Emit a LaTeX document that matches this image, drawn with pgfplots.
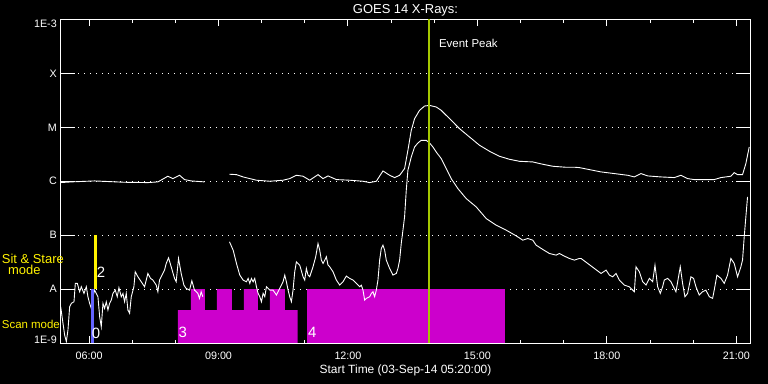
\documentclass[border=0pt]{standalone}
\usepackage{fontspec}
\setmainfont{Liberation Sans}
\usepackage{pgfplots}
\pgfplotsset{compat=1.18}
\definecolor{mag}{RGB}{204,0,204}
\definecolor{peak}{RGB}{165,200,0}
\definecolor{sblue}{RGB}{100,100,255}
\begin{document}
\begin{tikzpicture}
\fill[black] (-60.3bp,-41bp) rectangle (707.7bp,343bp);
\begin{axis}[
  at={(0,0)}, anchor=south west,
  scale only axis, width=690.4bp, height=323.5bp,
  xmin=5.3333, xmax=21.3333, ymin=-9, ymax=-3,
  axis line style={white, line width=1bp},
  xtick={6,9,12,15,18,21},
  xticklabels={06:00,09:00,12:00,15:00,18:00,21:00},
  minor x tick num=2,
  ytick={-9,-8,-7,-6,-5,-4,-3},
  yticklabels={\raisebox{0pt}[0pt][0pt]{1E-9},A,B,C,M,X,\raisebox{-7.6pt}[0pt][0pt]{1E-3}},
  tick align=inside,
  tick style={white, line width=1bp},
  major tick length=6.5bp, minor tick length=3.2bp,
  ytick style={/pgfplots/major tick length=15bp},
  ymajorgrids,
  grid style={white, line width=1bp, dash pattern=on 1bp off 5bp},
  tick label style={white, font=\fontsize{10.8}{12}\selectfont},
  xticklabel style={yshift=-5.3bp},
  every axis title/.style={at={(axis description cs:0.5,1)}, anchor=base, yshift=5.5bp, inner sep=0pt, white, font=\fontsize{13}{15}\selectfont},
  title={GOES 14 X-Rays:},
  xlabel={Start Time (03-Sep-14 05:20:00)},
  xlabel style={white, font=\fontsize{12}{14}\selectfont, at={(axis description cs:0.5,0)}, anchor=north, yshift=-21.3bp, inner sep=0pt},
]
% instrument mode blocks
\addplot[fill=mag, draw=none] coordinates {(8.058,-9) (8.058,-8.389) (8.359,-8.389) (8.359,-8) (8.683,-8) (8.683,-8.389) (8.961,-8.389) (8.961,-8) (9.308,-8) (9.308,-8.389) (9.586,-8.389) (9.586,-8) (9.910,-8) (9.910,-8.389) (10.188,-8.389) (10.188,-8) (10.535,-8) (10.535,-8.389) (10.836,-8.389) (10.836,-9)};
\addplot[fill=mag, draw=none] coordinates {(11.044,-9) (11.044,-8) (15.650,-8) (15.650,-9)};
% long channel
\addplot[white, line width=0.9bp] coordinates {(5.342,-6.025) (5.589,-6.012) (6.129,-5.994) (6.823,-6.019) (7.363,-6.025) (7.595,-6.012) (7.826,-5.907) (7.942,-5.951) (8.097,-5.889) (8.212,-5.969) (8.366,-5.994) (8.675,-6.012)};
\addplot[white, line width=0.9bp] coordinates {(9.254,-5.870) (9.416,-5.877) (9.570,-5.920) (9.725,-5.951) (9.879,-5.981) (10.188,-6.000) (10.496,-5.981) (10.650,-5.951) (10.805,-5.889) (10.959,-5.907) (11.113,-5.981) (11.306,-5.877) (11.422,-5.951) (11.538,-5.901) (11.731,-5.969) (12.039,-5.981) (12.348,-6.000) (12.502,-6.025) (12.657,-6.000) (12.811,-5.809) (12.965,-5.889) (13.081,-5.932) (13.197,-5.890) (13.312,-5.765) (13.389,-5.426) (13.467,-5.056) (13.544,-4.839) (13.659,-4.685) (13.775,-4.605) (13.891,-4.593) (14.045,-4.623) (14.161,-4.685) (14.354,-4.839) (14.586,-5.025) (14.817,-5.179) (15.049,-5.333) (15.280,-5.444) (15.512,-5.537) (15.743,-5.593) (15.975,-5.630) (16.283,-5.642) (16.515,-5.685) (16.746,-5.722) (17.055,-5.741) (17.248,-5.740) (17.363,-5.747) (17.556,-5.778) (17.865,-5.827) (18.174,-5.858) (18.483,-5.889) (18.637,-5.920) (18.791,-5.858) (18.945,-5.901) (19.254,-5.920) (19.563,-5.932) (19.717,-5.889) (19.871,-5.951) (20.025,-5.969) (20.488,-5.969) (20.643,-5.932) (20.874,-5.907) (20.951,-5.840) (21.029,-5.877) (21.144,-5.877) (21.221,-5.673) (21.299,-5.364)};
% short channel
\addplot[white, line width=0.9bp] coordinates {(5.342,-8.327) (5.396,-8.636) (5.434,-8.852) (5.473,-8.975) (5.511,-8.759) (5.550,-8.327) (5.589,-8.265) (5.651,-8.235) (5.681,-7.895) (5.728,-7.895) (5.782,-8.049) (5.820,-7.957) (5.882,-8.080) (5.936,-7.957) (5.974,-8.142) (6.013,-8.265) (6.052,-8.358) (6.090,-8.142) (6.129,-8.019) (6.167,-8.080) (6.206,-8.142) (6.245,-8.512) (6.283,-8.698) (6.322,-8.265) (6.360,-8.358) (6.399,-8.235) (6.437,-8.389) (6.476,-8.265) (6.515,-8.204) (6.553,-8.080) (6.607,-8.019) (6.653,-8.142) (6.692,-7.975) (6.746,-8.142) (6.785,-8.080) (6.823,-8.235) (6.862,-8.080) (6.900,-8.389) (6.939,-8.451) (6.978,-8.142) (7.039,-7.957) (7.070,-7.679) (7.132,-7.772) (7.209,-7.864) (7.286,-7.957) (7.363,-7.710) (7.425,-7.802) (7.479,-7.833) (7.556,-7.926) (7.595,-8.049) (7.633,-7.833) (7.710,-7.710) (7.749,-7.648) (7.788,-7.525) (7.842,-7.420) (7.903,-7.586) (7.981,-7.802) (8.019,-7.864) (8.073,-7.432) (8.135,-7.710) (8.197,-7.926) (8.250,-7.988) (8.328,-8.019) (8.382,-7.846) (8.443,-8.019) (8.521,-8.080) (8.559,-8.173) (8.598,-8.049) (8.636,-8.142)};
\addplot[white, line width=0.9bp] coordinates {(9.254,-7.123) (9.339,-7.278) (9.416,-7.525) (9.493,-7.741) (9.570,-7.833) (9.647,-7.864) (9.686,-7.802) (9.725,-7.895) (9.763,-7.802) (9.802,-7.864) (9.840,-7.802) (9.879,-7.957) (9.917,-8.080) (9.956,-8.142) (9.995,-8.235) (10.033,-8.080) (10.072,-8.142) (10.110,-7.957) (10.188,-8.019) (10.265,-8.019) (10.342,-8.111) (10.419,-7.988) (10.496,-7.864) (10.535,-7.741) (10.573,-7.864) (10.612,-8.019) (10.650,-8.142) (10.689,-8.235) (10.727,-8.019) (10.766,-7.679) (10.805,-7.494) (10.882,-7.556) (10.959,-7.772) (10.998,-7.833) (11.036,-7.617) (11.075,-7.741) (11.113,-7.772) (11.152,-7.679) (11.190,-7.586) (11.252,-7.401) (11.306,-7.154) (11.345,-7.278) (11.383,-7.463) (11.422,-7.525) (11.461,-7.463) (11.499,-7.401) (11.538,-7.556) (11.576,-7.586) (11.654,-7.679) (11.731,-7.833) (11.808,-7.926) (11.885,-7.864) (11.962,-7.759) (12.039,-7.802) (12.116,-7.833) (12.194,-7.895) (12.271,-7.957) (12.309,-7.926) (12.348,-8.019) (12.387,-8.204) (12.425,-8.173) (12.502,-8.142) (12.541,-8.080) (12.579,-8.049) (12.618,-8.142) (12.657,-8.019) (12.695,-7.833) (12.734,-7.463) (12.772,-7.247) (12.811,-7.185) (12.850,-7.278) (12.888,-7.463) (12.965,-7.617) (13.042,-7.741) (13.120,-7.710) (13.158,-7.617) (13.197,-7.463) (13.235,-7.154) (13.274,-6.907) (13.312,-6.661) (13.351,-6.167) (13.389,-5.796) (13.467,-5.549) (13.544,-5.364) (13.621,-5.290) (13.698,-5.241) (13.814,-5.241) (13.891,-5.290) (13.968,-5.364) (14.045,-5.457) (14.161,-5.580) (14.277,-5.765) (14.392,-5.951) (14.547,-6.136) (14.740,-6.321) (14.971,-6.475) (15.203,-6.691) (15.434,-6.815) (15.666,-6.907) (15.897,-7.012) (16.051,-7.093) (16.167,-7.062) (16.283,-7.093) (16.360,-7.185) (16.515,-7.265) (16.669,-7.340) (16.823,-7.370) (16.900,-7.340) (17.016,-7.389) (17.132,-7.432) (17.248,-7.463) (17.363,-7.432) (17.402,-7.432) (17.556,-7.525) (17.711,-7.617) (17.865,-7.710) (17.981,-7.648) (18.058,-7.741) (18.135,-7.772) (18.212,-7.710) (18.289,-7.833) (18.405,-7.926) (18.521,-7.957) (18.637,-8.049) (18.675,-7.586) (18.752,-7.679) (18.830,-7.864) (18.907,-7.926) (18.984,-7.802) (19.061,-7.864) (19.115,-7.556) (19.177,-7.957) (19.238,-8.080) (19.292,-7.957) (19.331,-7.833) (19.408,-7.802) (19.485,-7.864) (19.563,-7.988) (19.601,-8.049) (19.701,-7.586) (19.755,-7.895) (19.809,-8.142) (19.871,-8.080) (19.948,-7.772) (20.010,-7.802) (20.064,-7.957) (20.141,-8.111) (20.218,-8.049) (20.295,-8.019) (20.373,-8.142) (20.450,-8.173) (20.488,-8.019) (20.550,-7.741) (20.643,-7.802) (20.720,-7.895) (20.797,-7.741) (20.874,-7.432) (20.951,-7.525) (21.029,-7.772) (21.106,-7.586) (21.144,-7.463) (21.183,-7.031) (21.221,-6.661) (21.260,-6.290)};
% sit & stare / scan markers
\addplot[fill=sblue, draw=none] coordinates {(6.037,-9) (6.037,-8) (6.107,-8) (6.107,-9)};
\addplot[fill=yellow, draw=none] coordinates {(6.113,-8) (6.113,-7) (6.176,-7) (6.176,-8)};
% event peak
\addplot[peak, line width=2bp] coordinates {(13.868,-9) (13.868,-3)};
\node[white, font=\fontsize{11.5}{13}\selectfont, anchor=base west, inner sep=0pt] at (axis cs:14.107,-3.524) {Event Peak};
\node[white, font=\fontsize{15}{18}\selectfont, inner sep=0pt] at (axis cs:6.160,-8.815) {0};
\node[white, font=\fontsize{15}{18}\selectfont, inner sep=0pt] at (axis cs:6.276,-7.694) {2};
\node[white, font=\fontsize{15}{18}\selectfont, inner sep=0pt] at (axis cs:8.174,-8.806) {3};
\node[white, font=\fontsize{15}{18}\selectfont, inner sep=0pt] at (axis cs:11.171,-8.806) {4};
\end{axis}
\node[yellow, font=\fontsize{13}{15}\selectfont, anchor=base west, inner sep=0pt] at (-58.6bp,79.7bp) {Sit \& Stare};
\node[yellow, font=\fontsize{13}{15}\selectfont, anchor=base, inner sep=0pt] at (-36bp,68bp) {mode};
\node[yellow, font=\fontsize{11.5}{13}\selectfont, anchor=base west, inner sep=0pt] at (-58.6bp,14.7bp) {Scan mode};
\pgfresetboundingbox
\path (-60.3bp,-41bp) rectangle (707.7bp,343bp);
\end{tikzpicture}
\end{document}
